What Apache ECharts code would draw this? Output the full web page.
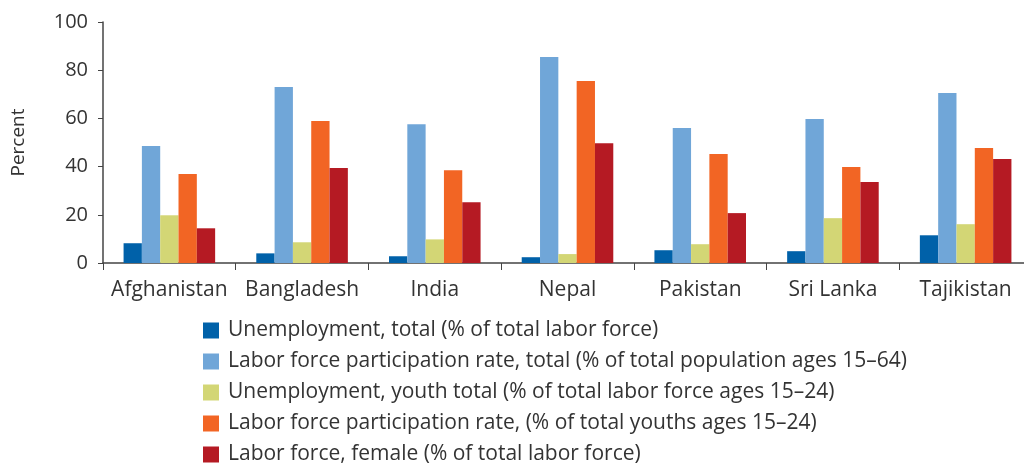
<!DOCTYPE html>
<html>
<head>
<meta charset="utf-8">
<script src="https://cdn.jsdelivr.net/npm/echarts@6/dist/echarts.min.js"></script>
<style>
    html, body { margin: 0; padding: 0; background: #fff; }
    #chart { width: 1024px; height: 464px; }
</style>
</head>
<body>
<div id="chart"></div>
<script>
let countries = ['Afghanistan', 'Bangladesh', 'India', 'Nepal', 'Pakistan', 'Sri Lanka', 'Tajikistan'];
let unempTotal = [8.2, 4.0, 2.8, 2.4, 5.3, 4.9, 11.5];
let lfprTotal = [48.5, 73.0, 57.6, 85.5, 56.0, 59.7, 70.5];
let unempYouth = [19.8, 8.6, 9.8, 3.7, 7.8, 18.6, 16.1];
let lfprYouth = [36.9, 58.9, 38.5, 75.5, 45.2, 39.8, 47.7];
let lfFemale = [14.4, 39.4, 25.2, 49.7, 20.7, 33.6, 43.2];
let seriesNames = [
    'Unemployment, total (% of total labor force)',
    'Labor force participation rate, total (% of total population ages 15–64)',
    'Unemployment, youth total (% of total labor force ages 15–24)',
    'Labor force participation rate, (% of total youths ages 15–24)',
    'Labor force, female (% of total labor force)'
];
let seriesData = [unempTotal, lfprTotal, unempYouth, lfprYouth, lfFemale];

let chart = echarts.init(document.getElementById('chart'));
let font = '"Open Sans", "Noto Sans", sans-serif';
let option = {
    animation: false,
    color: ['#0061a9', '#70a6d8', '#d3d675', '#f26524', '#b51a23'],
    textStyle: { fontFamily: font },
    grid: { left: 103, top: 22, width: 929, height: 241, outerBoundsMode: 'none', containLabel: false },
    legend: {
        orient: 'vertical',
        left: 198,
        top: 315,
        height: 160,
        itemWidth: 16,
        itemHeight: 16,
        itemGap: 10,
        icon: 'rect',
        textStyle: { fontSize: 21, color: '#333', fontFamily: font, padding: [0, 0, 0, 4] },
        data: seriesNames
    },
    xAxis: {
        type: 'category',
        data: countries,
        axisLine: { lineStyle: { color: '#444', width: 1.5 } },
        axisTick: { show: true, length: 7, lineStyle: { color: '#444' } },
        axisLabel: { fontSize: 21, color: '#333', margin: 17, interval: 0 }
    },
    yAxis: {
        type: 'value',
        min: 0,
        max: 100,
        interval: 20,
        name: 'Percent',
        nameLocation: 'middle',
        nameGap: 75,
        nameTextStyle: { fontSize: 19, color: '#333' },
        splitLine: { show: false },
        axisLine: { show: true, lineStyle: { color: '#444', width: 1.5 } },
        axisTick: { show: true, length: 5, lineStyle: { color: '#444' } },
        axisLabel: { fontSize: 20, color: '#333', margin: 15 }
    },
    series: seriesNames.map(function(name, i){
        return {
            name: name,
            type: 'bar',
            data: seriesData[i],
            barGap: 0,
            barCategoryGap: '31%'
        };
    })
};
chart.setOption(option);
</script>
</body>
</html>
